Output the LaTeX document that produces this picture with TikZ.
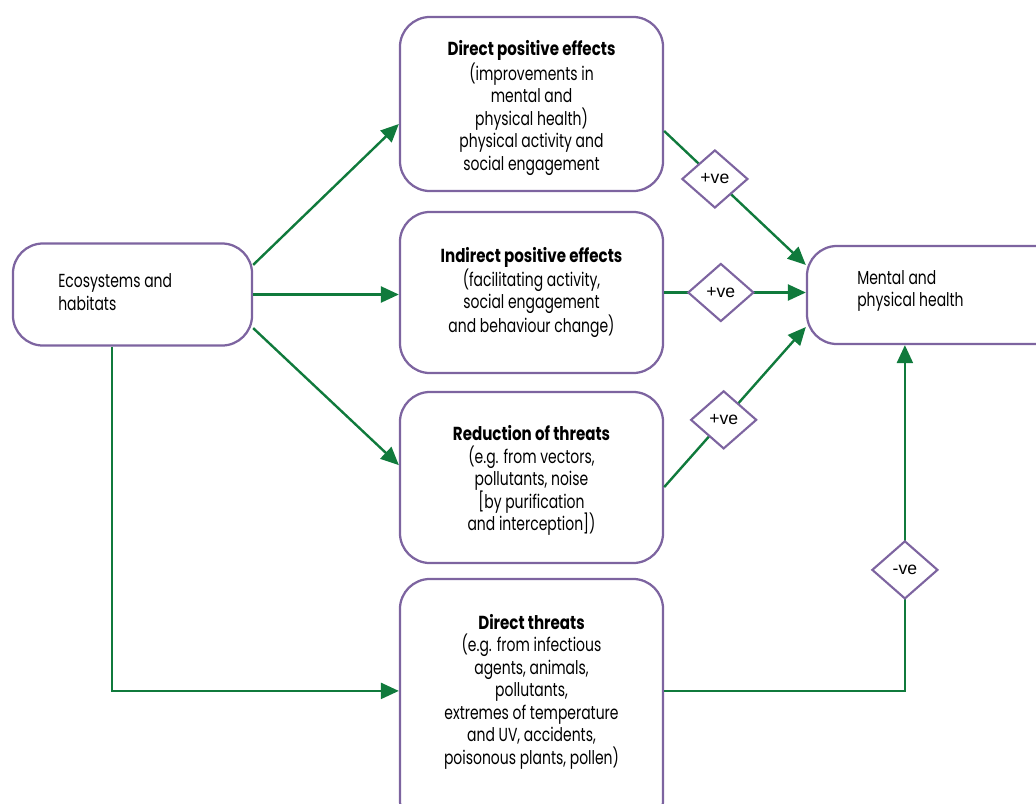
\documentclass[tikz,border=0pt]{standalone}
\usepackage{fontspec}
\setmainfont{Poppins}[FakeStretch=0.74, BoldFeatures={FakeStretch=0.8}]
\newfontfamily\dfont{Liberation Sans}
\usetikzlibrary{shapes.geometric,arrows.meta,calc}
\definecolor{boxc}{RGB}{125,100,160}
\definecolor{arrc}{RGB}{16,122,60}
\tikzset{
  box/.style={draw=boxc, line width=1.6pt, rounded corners=0.75cm, fill=white, inner sep=0pt},
  txt/.style={align=center, font=\fontsize{13.4}{16}\selectfont, inner sep=0pt},
  ltxt/.style={align=left, font=\fontsize{13.4}{16}\selectfont, inner sep=0pt, anchor=west},
  arr/.style={draw=arrc, line width=1.7pt, -{Triangle[length=0.45cm,width=0.4cm]}},
  dia/.style={diamond, draw=boxc, line width=1.5pt, fill=white, minimum width=1.65cm, minimum height=1.45cm, inner sep=0pt, font=\dfont\fontsize{12.5}{13}\selectfont, text=black}
}
\begin{document}
\begin{tikzpicture}[x=0.025cm,y=-0.025cm]
\useasboundingbox (0,0) rectangle (1036,803);
\clip (0,0) rectangle (1036,803);
% boxes
\node[box, minimum width=5.975cm, minimum height=2.55cm] (eco) at (132.5,294.5) {};
\node[ltxt] (ecot) at (58,292) {Ecosystems and\\habitats};
\node[box, minimum width=6.575cm, minimum height=4.35cm] (dp) at (531.5,104) {};
\node[txt] (dpt) at (531.5,108) {\textbf{Direct positive effects}\\(improvements in\\mental and\\ physical health)\\physical activity and\\social engagement};
\node[box, minimum width=6.575cm, minimum height=4.025cm] (ind) at (531.5,292.5) {};
\node[txt] (indt) at (531.5,292.5) {\textbf{Indirect positive effects}\\(facilitating activity,\\social engagement\\and behaviour change)};
\node[box, minimum width=6.575cm, minimum height=4.275cm] (red) at (531.5,477.5) {};
\node[txt] (redt) at (531.5,480.5) {\textbf{Reduction of threats}\\(e.g. from vectors,\\pollutants, noise\\{[}by purification\\ and interception{]})};
\node[box, minimum width=6.575cm, minimum height=6.275cm] (th) at (531.5,704.5) {};
\node[txt] (tht) at (531.5,691.5) {\textbf{Direct threats}\\(e.g. from infectious\\agents, animals,\\pollutants,\\extremes of temperature\\and UV, accidents,\\ poisonous plants, pollen)};
\node[box, minimum width=6.475cm, minimum height=2.45cm] (ment) at (936.5,295) {};
\node[ltxt] (mentt) at (857,291) {Mental and\\physical health};
% connectors from ecosystems
\draw[arr] ([yshift=0.74cm]eco.east) -- ([yshift=-0.5cm]dp.west);
\draw[arr] (eco.east) -- (eco.east -| ind.west);
\draw[arr] ([yshift=-0.84cm]eco.east) -- ([yshift=0.31cm]red.west);
\draw[arr] ([xshift=-0.51cm]eco.south) |- ([yshift=0.34cm]th.west);
% connectors to health
\draw[arr] ([yshift=-0.675cm]dp.east) -- node[dia, pos=0.358] (d1) {+ve} ([yshift=0.75cm]ment.west);
\draw[arr] (ind.east) -- node[dia, pos=0.40] (d2) {+ve} (ind.east -| ment.west);
\draw[arr] ([yshift=-0.24cm]red.east) -- node[dia, pos=0.42] (d3) {+ve} ([yshift=-0.8cm]ment.west);
\draw[arr] ([yshift=0.34cm]th.east) -| node[dia, pos=0.675] (d4) {-ve} ([xshift=-0.79cm]ment.south);
\end{tikzpicture}
\end{document}
